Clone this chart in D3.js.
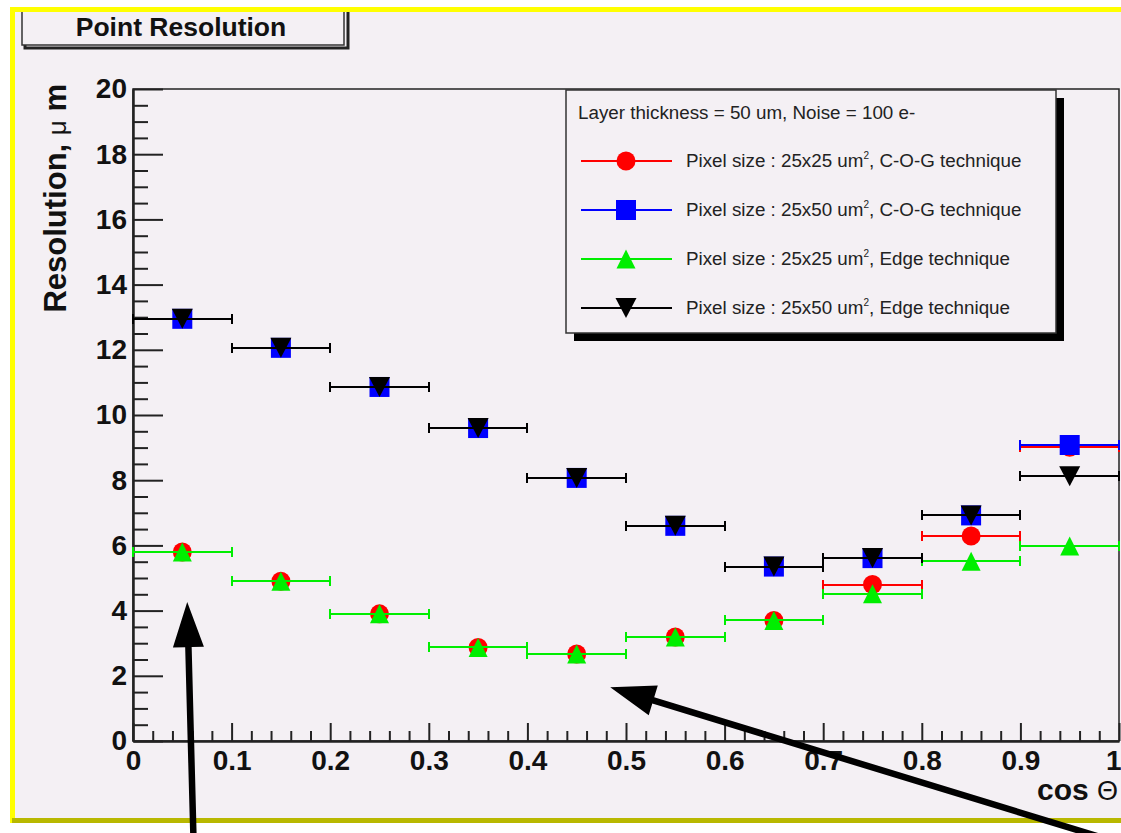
<!DOCTYPE html>
<html>
<head>
<meta charset="utf-8">
<script src="https://cdn.jsdelivr.net/npm/d3@7"></script>
<style>
  body { margin: 0; background: #fff; }
  text { font-family: "Liberation Sans", Arial, Helvetica, sans-serif; }
</style>
</head>
<body>
<div id="chart"></div>
<script>
// Point resolution vs cos(theta) – bins of width 0.1
const cosTheta    = [0.05, 0.15, 0.25, 0.35, 0.45, 0.55, 0.65, 0.75, 0.85, 0.95];
const cosThetaErr = [0.05, 0.05, 0.05, 0.05, 0.05, 0.05, 0.05, 0.05, 0.05, 0.05];

const res25x25Cog  = [5.80, 4.90, 3.90, 2.87, 2.67, 3.19, 3.70, 4.80, 6.29, 9.01];
const res25x50Cog  = [12.95, 12.06, 10.86, 9.60, 8.07, 6.60, 5.35, 5.61, 6.92, 9.08];
const res25x25Edge = [5.80, 4.90, 3.90, 2.87, 2.67, 3.19, 3.70, 4.52, 5.51, 5.98];
const res25x50Edge = [12.95, 12.06, 10.86, 9.60, 8.07, 6.60, 5.35, 5.61, 6.92, 8.12];

const yTicks = [0, 2, 4, 6, 8, 10, 12, 14, 16, 18, 20];
const xTicks = [0, 0.1, 0.2, 0.3, 0.4, 0.5, 0.6, 0.7, 0.8, 0.9, 1];
const xTickLabels = ["0", "0.1", "0.2", "0.3", "0.4", "0.5", "0.6", "0.7", "0.8", "0.9", "1"];

const legendHeader = "Layer thickness = 50 um, Noise = 100 e-";
const legendLabels = [
  ["Pixel size : 25x25 um", "2", ", C-O-G technique"],
  ["Pixel size : 25x50 um", "2", ", C-O-G technique"],
  ["Pixel size : 25x25 um", "2", ", Edge technique"],
  ["Pixel size : 25x50 um", "2", ", Edge technique"]
];

// annotation arrows (tip / tail in data units)
const arrowTips  = [{ x: 0.055, y: 4.26 }, { x: 0.484, y: 1.65 }];
const arrowTails = [{ x: 0.0617, y: -3.4 }, { x: 1.03, y: -3.4 }];

const series = [
  { values: res25x25Cog,  color: "#ff0000", marker: "circle" },
  { values: res25x50Cog,  color: "#0000ff", marker: "square" },
  { values: res25x25Edge, color: "#00ee00", marker: "triUp" },
  { values: res25x50Edge, color: "#000000", marker: "triDown" }
];

const W = 1121, H = 833;
const bg = "#f4f0f4";
const plot = { left: 133, right: 1119, top: 89, bottom: 741 };

const svg = d3.select("#chart").append("svg")
  .attr("width", W).attr("height", H);

svg.append("rect").attr("width", W).attr("height", H).attr("fill", "#fff");

// canvas frame (yellow bevel)
svg.append("rect").attr("x", 10).attr("y", 7).attr("width", W).attr("height", 816).attr("fill", "#ffff00");
svg.append("rect").attr("x", 12).attr("y", 818).attr("width", W).attr("height", 5).attr("fill", "#b8b800");
svg.append("rect").attr("x", 15).attr("y", 12).attr("width", W).attr("height", 806).attr("fill", bg);

// title box
svg.append("path").attr("d", "M25,12V48H348V12").attr("fill", "none").attr("stroke", "#222").attr("stroke-width", 3);
svg.append("path").attr("d", "M22,12V45H344V12").attr("fill", bg).attr("stroke", "#333").attr("stroke-width", 1.5);
svg.append("text").attr("x", 181).attr("y", 36).attr("text-anchor", "middle")
  .attr("font-size", 26.5).attr("font-weight", "bold").attr("fill", "#111")
  .text("Point Resolution");

// scales
const x = d3.scaleLinear().domain([0, 1]).range([plot.left, plot.right]);
const y = d3.scaleLinear().domain([0, 20]).range([plot.bottom, plot.top]);

// frame
svg.append("rect")
  .attr("x", plot.left).attr("y", plot.top)
  .attr("width", plot.right - plot.left).attr("height", plot.bottom - plot.top)
  .attr("fill", "none").attr("stroke", "#222").attr("stroke-width", 1.5);

// y axis (ticks inside)
const yMinor = d3.range(0, 20.01, 0.5).filter(v => v % 2 !== 0);
svg.append("g").attr("transform", `translate(${plot.left},0)`)
  .call(d3.axisLeft(y).tickValues(yMinor).tickSize(-15).tickSizeOuter(0).tickFormat(""))
  .call(g => g.selectAll("line").attr("stroke", "#222").attr("stroke-width", 2))
  .call(g => g.select(".domain").remove());

svg.append("g").attr("transform", `translate(${plot.left},0)`)
  .call(d3.axisLeft(y).tickValues(yTicks).tickSize(-30).tickSizeOuter(0).tickPadding(6))
  .call(g => g.selectAll("line").attr("stroke", "#222").attr("stroke-width", 2))
  .call(g => g.select(".domain").attr("stroke", "#222").attr("stroke-width", 2.5))
  .call(g => g.selectAll("text").attr("font-size", 28).attr("font-weight", "bold")
    .attr("fill", "#111").attr("font-family", "Liberation Sans, Arial, sans-serif"));

// x axis (ticks inside)
const xMinor = d3.range(0, 1.001, 0.02).filter(v => Math.abs(v * 10 - Math.round(v * 10)) > 1e-6);
svg.append("g").attr("transform", `translate(0,${plot.bottom})`)
  .call(d3.axisBottom(x).tickValues(xMinor).tickSize(-10).tickSizeOuter(0).tickFormat(""))
  .call(g => g.selectAll("line").attr("stroke", "#222").attr("stroke-width", 2))
  .call(g => g.select(".domain").remove());

svg.append("g").attr("transform", `translate(0,${plot.bottom})`)
  .call(d3.axisBottom(x).tickValues(xTicks).tickSize(-18).tickSizeOuter(0).tickPadding(9)
    .tickFormat((d, i) => xTickLabels[i]))
  .call(g => g.selectAll("line").attr("stroke", "#222").attr("stroke-width", 2))
  .call(g => g.select(".domain").attr("stroke", "#222").attr("stroke-width", 2.5))
  .call(g => g.selectAll("text").attr("font-size", 28).attr("font-weight", "bold")
    .attr("fill", "#111").attr("font-family", "Liberation Sans, Arial, sans-serif"))
  // last label sits on the image edge: keep it inside
  .call(g => g.selectAll(".tick").filter(d => d === 1).select("text")
    .attr("text-anchor", "end").attr("x", W - plot.right));

// marker shapes
function markerPath(type) {
  if (type === "circle") return d3.symbol(d3.symbolCircle, Math.PI * 9.5 * 9.5)();
  if (type === "square") return "M-10,-10H10V10H-10Z";
  if (type === "triUp") return "M0,-9.5L9.5,9.5L-9.5,9.5Z";
  return "M0,10L10.5,-10L-10.5,-10Z";
}

// data series with horizontal error bars
series.forEach(s => {
  const g = svg.append("g");
  const pts = cosTheta.map((c, i) => ({ c, e: cosThetaErr[i], v: s.values[i] }));
  const bars = g.append("g").attr("stroke", s.color).attr("stroke-width", 2)
    .attr("shape-rendering", "crispEdges");
  bars.selectAll("line.bar").data(pts).join("line")
    .attr("x1", d => x(d.c - d.e)).attr("x2", d => x(d.c + d.e))
    .attr("y1", d => Math.round(y(d.v))).attr("y2", d => Math.round(y(d.v)));
  bars.selectAll("line.capl").data(pts).join("line")
    .attr("x1", d => x(d.c - d.e)).attr("x2", d => x(d.c - d.e))
    .attr("y1", d => Math.round(y(d.v)) - 5).attr("y2", d => Math.round(y(d.v)) + 5);
  bars.selectAll("line.capr").data(pts).join("line")
    .attr("x1", d => x(d.c + d.e)).attr("x2", d => x(d.c + d.e))
    .attr("y1", d => Math.round(y(d.v)) - 5).attr("y2", d => Math.round(y(d.v)) + 5);
  g.selectAll("path").data(pts).join("path")
    .attr("d", markerPath(s.marker))
    .attr("transform", d => `translate(${x(d.c)},${y(d.v)})`)
    .attr("fill", s.color);
});

// legend
const lg = svg.append("g");
lg.append("rect").attr("x", 574).attr("y", 98).attr("width", 490).attr("height", 243).attr("fill", "#000");
lg.append("rect").attr("x", 566).attr("y", 90).attr("width", 490).attr("height", 243)
  .attr("fill", bg).attr("stroke", "#333").attr("stroke-width", 1.5);
lg.append("text").attr("x", 578).attr("y", 119).attr("font-size", 18.8).attr("fill", "#222").text(legendHeader);

series.forEach((s, i) => {
  const cy = 161 + i * 49;
  lg.append("line").attr("x1", 581).attr("x2", 672).attr("y1", cy).attr("y2", cy)
    .attr("stroke", s.color).attr("stroke-width", 2);
  lg.append("path").attr("d", markerPath(s.marker)).attr("transform", `translate(626,${cy})`).attr("fill", s.color);
  const t = lg.append("text").attr("x", 686).attr("y", cy + 6).attr("font-size", 18.8).attr("fill", "#222");
  t.append("tspan").text(legendLabels[i][0]);
  t.append("tspan").attr("font-size", 10).attr("dy", -8).text(legendLabels[i][1]);
  t.append("tspan").attr("dy", 8).text(legendLabels[i][2]);
});

// axis titles
const yt = svg.append("text")
  .attr("transform", `translate(66,84) rotate(-90)`)
  .attr("text-anchor", "end").attr("font-size", 31).attr("font-weight", "bold").attr("fill", "#111");
yt.append("tspan").text("Resolution, ");
yt.append("tspan").attr("font-weight", "normal").attr("font-size", 26).text("\u03bc");
yt.append("tspan").text(" m");

const xt = svg.append("text").attr("x", 1118).attr("y", 800)
  .attr("text-anchor", "end").attr("font-size", 30).attr("font-weight", "bold").attr("fill", "#111");
xt.append("tspan").text("cos ");
xt.append("tspan").attr("font-weight", "normal").attr("font-size", 27).text("\u0398");

// annotation arrows
function arrowPoly(tip, tail, headLen, headW, shaftW) {
  const dx = tail[0] - tip[0], dy = tail[1] - tip[1];
  const L = Math.hypot(dx, dy);
  const ux = dx / L, uy = dy / L, nx = -uy, ny = ux;
  const bx = tip[0] + ux * headLen, by = tip[1] + uy * headLen;
  const p = (px, py, k) => [px + nx * k, py + ny * k];
  return [
    tip,
    p(bx, by, headW / 2), p(bx, by, shaftW / 2), p(tail[0], tail[1], shaftW / 2),
    p(tail[0], tail[1], -shaftW / 2), p(bx, by, -shaftW / 2), p(bx, by, -headW / 2)
  ];
}
arrowTips.forEach((t, i) => {
  const pts = arrowPoly([x(t.x), y(t.y)], [x(arrowTails[i].x), y(arrowTails[i].y)], 45, 31, 6.5);
  svg.append("path").attr("d", d3.line()(pts) + "Z").attr("fill", "#000");
});
</script>
</body>
</html>
